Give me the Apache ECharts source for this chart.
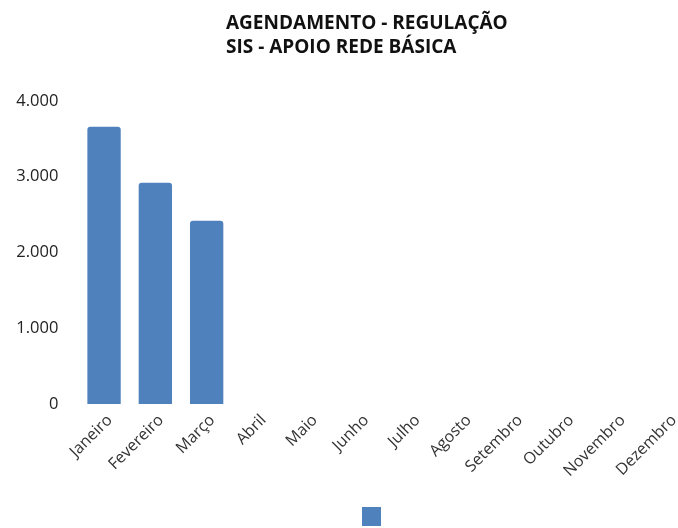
<!DOCTYPE html>
<html><head><meta charset="utf-8">
<script src="https://cdn.jsdelivr.net/npm/echarts@6/dist/echarts.min.js"></script>
<style>html,body{margin:0;padding:0;background:#fff}#c{width:678px;height:528px}</style>
</head><body><div id="c"></div>
<script>
var categories = ['Janeiro','Fevereiro','Março','Abril','Maio','Junho','Julho','Agosto','Setembro','Outubro','Novembro','Dezembro'];
var values = [3660, 2920, 2420, null, null, null, null, null, null, null, null, null];
var yTicks = [0, 1000, 2000, 3000, 4000];
var titleLines = ['AGENDAMENTO - REGULAÇÃO', 'SIS - APOIO REDE BÁSICA'];
var seriesName = ' ';

var chart = echarts.init(document.getElementById('c'));
var font = '"Open Sans", "Liberation Sans", sans-serif';
chart.setOption({
  animation: false,
  textStyle: {fontFamily: font},
  title: {
    text: titleLines.join('\n'),
    left: 221, top: 7,
    textStyle: {fontFamily: font, fontSize: 19, fontWeight: 'bold', color: '#111', lineHeight: 24}
  },
  legend: {
    left: 357, top: 502,
    itemWidth: 19, itemHeight: 19, icon: 'rect',
    data: [seriesName],
    textStyle: {fontSize: 1}
  },
  grid: {left: 78.4, width: 615.6, top: 101, height: 303, containLabel: false, outerBoundsMode: 'none'},
  xAxis: {
    type: 'category', data: categories,
    axisLine: {show: false}, axisTick: {show: false},
    axisLabel: {rotate: 45, fontSize: 16, color: '#333', margin: 8, interval: 0, fontFamily: font, verticalAlign: 'top'}
  },
  yAxis: {
    type: 'value', min: yTicks[0], max: yTicks[yTicks.length - 1], interval: 1000,
    splitLine: {show: false}, axisLine: {show: false}, axisTick: {show: false},
    axisLabel: {fontSize: 16.5, color: '#222', margin: 20, fontFamily: font,
      formatter: function (v) { return String(v).replace(/\B(?=(\d{3})+(?!\d))/g, '.'); }}
  },
  series: [{
    name: seriesName, type: 'bar', data: values, barWidth: '65%',
    itemStyle: {color: '#4f81bd', borderRadius: [3, 3, 0, 0]}
  }]
});
</script></body></html>
